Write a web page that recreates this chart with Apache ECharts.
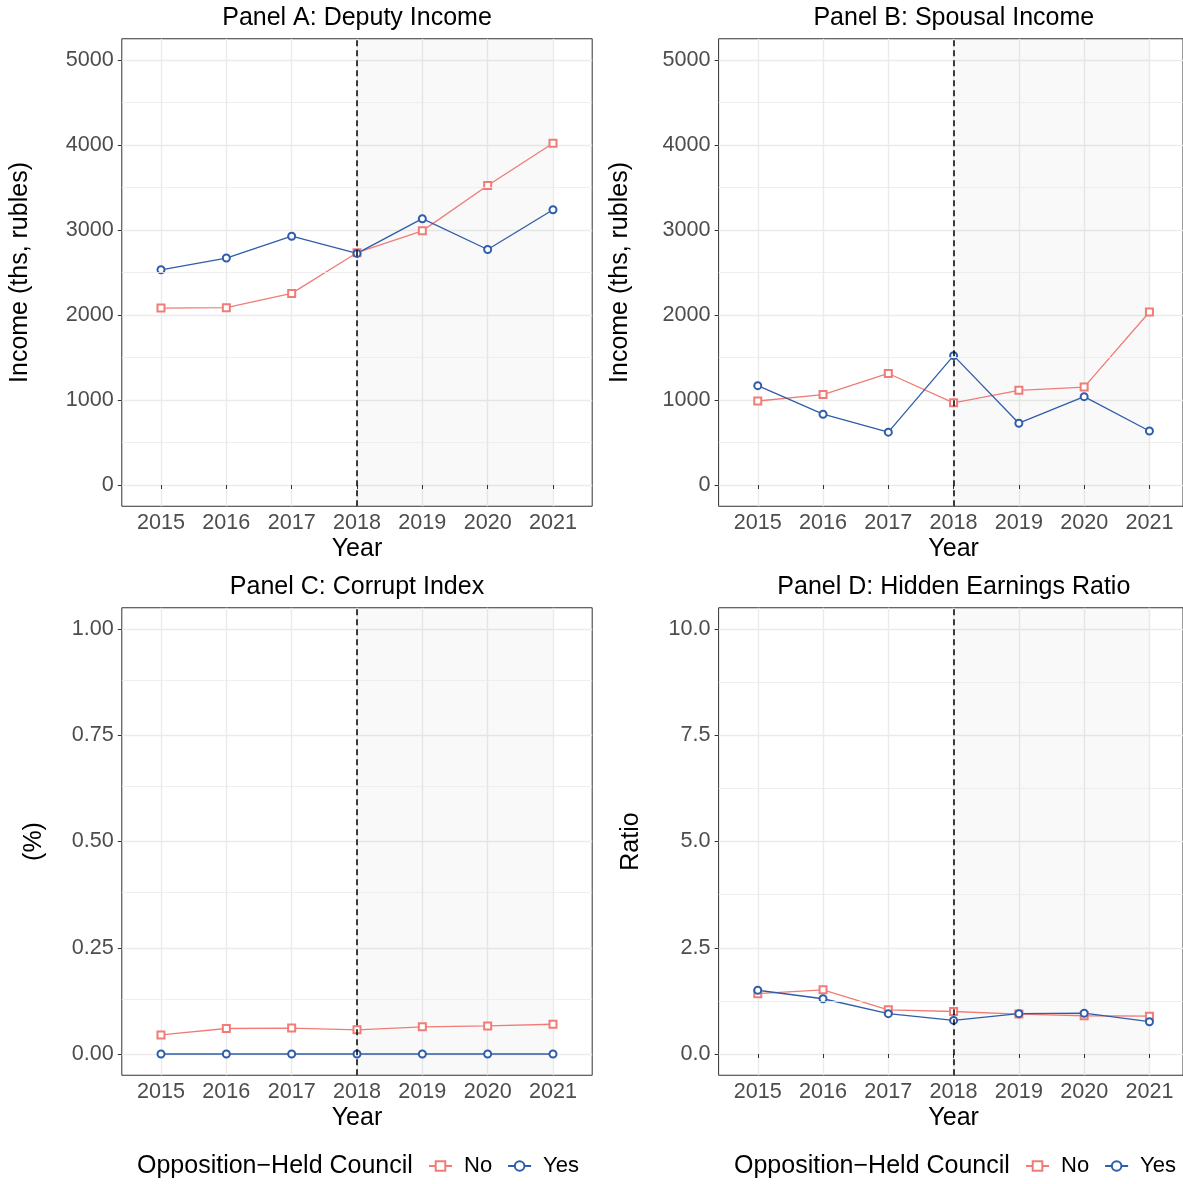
<!DOCTYPE html>
<html><head><meta charset="utf-8">
<script src="https://cdn.jsdelivr.net/npm/echarts@6/dist/echarts.min.js"></script>
<style>html,body{margin:0;padding:0;background:#fff}#c{width:1183px;height:1184px}</style>
</head><body><div id="c"></div>
<script>
// ---- data ----
const years = [2015, 2016, 2017, 2018, 2019, 2020, 2021];
const deputyNo  = [2082, 2086, 2254, 2733, 2990, 3524, 4020];
const deputyYes = [2532, 2670, 2927, 2725, 3133, 2771, 3238];
const spousalNo  = [988, 1064, 1312, 967, 1114, 1152, 2035];
const spousalYes = [1169, 833, 622, 1522, 727, 1039, 635];
const corruptNo  = [0.045, 0.060, 0.061, 0.057, 0.064, 0.066, 0.070];
const corruptYes = [0, 0, 0, 0, 0, 0, 0];
const hiddenNo  = [1.42, 1.51, 1.04, 1.00, 0.94, 0.90, 0.89];
const hiddenYes = [1.50, 1.30, 0.95, 0.79, 0.95, 0.96, 0.76];
const incomeTicks = [0, 1000, 2000, 3000, 4000, 5000];
const incomeMinor = [500, 1500, 2500, 3500, 4500];
const corruptTicks = [0, 0.25, 0.5, 0.75, 1];
const corruptMinor = [0.125, 0.375, 0.625, 0.875];
const ratioTicks = [0, 2.5, 5, 7.5, 10];
const ratioMinor = [1.25, 3.75, 6.25, 8.75];
const panelTitles = ['Panel A: Deputy Income', 'Panel B: Spousal Income', 'Panel C: Corrupt Index', 'Panel D: Hidden Earnings Ratio'];
const yTitles = ['Income (ths, rubles)', 'Income (ths, rubles)', '(%)', 'Ratio'];
const xTitle = 'Year';
const legendTitle = 'Opposition\u2212Held Council';
const groupNames = ['No', 'Yes'];
const treatYear = 2018;
const shadeEnd = 2021;

// ---- styling / layout ----
const FONT = "'Liberation Sans', Arial, Helvetica, sans-serif";
const RED = '#F07C77';
const BLUE = '#2F5DA9';
const GRIDC = '#EBEBEB';
const PX_PER_YEAR = 65.333;
const H = 467.5;
const FULLW = 470.4;
const lefts = [121.8, 718.6, 121.8, 718.6];
const widths = [FULLW, 1183.4 - 718.6, FULLW, 1183.4 - 718.6];   // right panels run off the canvas edge
const tops = [38.75, 38.75, 607.75, 607.75];
const xMin = 2014.4;

const panels = [
  {no: deputyNo, yes: deputyYes, min: -250, max: 5250, ticks: incomeTicks, minor: incomeMinor, fmt: v => String(Math.round(v)), gap: 89},
  {no: spousalNo, yes: spousalYes, min: -250, max: 5250, ticks: incomeTicks, minor: incomeMinor, fmt: v => String(Math.round(v)), gap: 86},
  {no: corruptNo, yes: corruptYes, min: -0.05, max: 1.05, ticks: corruptTicks, minor: corruptMinor, fmt: v => v.toFixed(2), gap: 75},
  {no: hiddenNo, yes: hiddenYes, min: -0.5, max: 10.5, ticks: ratioTicks, minor: ratioMinor, fmt: v => v.toFixed(1), gap: 75}
];

const grid = [], xAxis = [], yAxis = [], series = [], graphic = [];
panels.forEach((p, i) => {
  const shift = FULLW - widths[i];   // keep "Year" centred on the full (clipped) panel
  grid.push({left: lefts[i], top: tops[i], width: widths[i], height: H, show: true,
    borderColor: '#333', borderWidth: 1, backgroundColor: '#fff', containLabel: false});
  xAxis.push({type: 'value', gridIndex: i, min: xMin, max: xMin + widths[i] / PX_PER_YEAR,
    name: xTitle, nameLocation: 'middle', nameGap: 30,
    nameTextStyle: {fontSize: 25, color: '#000', fontFamily: FONT, padding: [0, 0, 0, shift]},
    axisLine: {show: false},
    axisTick: {show: true, length: 4, lineStyle: {color: '#333', width: 1}, customValues: years},
    axisLabel: {customValues: years, formatter: v => String(v), fontSize: 21.6, color: '#4D4D4D', fontFamily: FONT, margin: 6},
    splitLine: {show: true, lineStyle: {color: GRIDC, width: 1.4}}
  });
  yAxis.push({type: 'value', gridIndex: i, min: p.min, max: p.max,
    name: yTitles[i], nameLocation: 'middle', nameGap: p.gap, nameRotate: 90,
    nameTextStyle: {fontSize: 25, color: '#000', fontFamily: FONT},
    axisLine: {show: false},
    axisTick: {show: true, length: 4, lineStyle: {color: '#333', width: 1}, customValues: p.ticks},
    axisLabel: {customValues: p.ticks, formatter: p.fmt, fontSize: 21.6, color: '#4D4D4D', fontFamily: FONT, margin: 8},
    splitLine: {show: true, lineStyle: {color: GRIDC, width: 1.4}}
  });
  // background helper: shading + minor gridlines
  series.push({type: 'line', name: 'bg' + i, xAxisIndex: i, yAxisIndex: i, data: [], z: 1, silent: true,
    markArea: {silent: true, itemStyle: {color: 'rgba(0,0,0,0.025)'}, label: {show: false},
      data: [[{xAxis: treatYear}, {xAxis: shadeEnd}]]},
    markLine: {silent: true, symbol: ['none', 'none'], label: {show: false}, animation: false,
      data: p.minor.map(v => ({yAxis: v, lineStyle: {color: GRIDC, width: 0.8, type: 'solid'}}))}
  });
  const mk = (name, vals, color, sym) => ({
    type: 'line', name: name, xAxisIndex: i, yAxisIndex: i, z: 3,
    data: years.map((y, j) => [y, vals[j]]),
    symbol: sym, symbolSize: 7, showSymbol: true,
    lineStyle: {color: color, width: 1.3},
    itemStyle: {color: color, borderWidth: 0.8},
    emphasis: {disabled: true}
  });
  series.push(mk(groupNames[0], p.no, RED, 'emptyRect'));
  series.push(mk(groupNames[1], p.yes, BLUE, 'emptyCircle'));
  // dashed vertical line
  series.push({type: 'line', name: 'vl' + i, xAxisIndex: i, yAxisIndex: i, data: [], z: 5, silent: true,
    markLine: {silent: true, symbol: ['none', 'none'], label: {show: false}, animation: false,
      data: [{xAxis: treatYear, lineStyle: {color: '#000', width: 1.5, type: [6, 4]}}]}
  });
  graphic.push({type: 'text', x: lefts[i] + FULLW / 2, y: tops[i] - 21,
    style: {text: panelTitles[i], font: '25px ' + FONT, fill: '#000', align: 'center', verticalAlign: 'middle'}});
});

// legend titles
[137, 734].forEach(x => {
  graphic.push({type: 'text', x: x, y: 1166,
    style: {text: legendTitle, font: '25px ' + FONT, fill: '#000', align: 'left', verticalAlign: 'middle'}});
});

const legends = [428, 1025].map(l => ({
  left: l, top: 1155, padding: 0, itemWidth: 23, itemHeight: 12, itemGap: 15,
  data: groupNames, selectedMode: false,
  textStyle: {fontSize: 22, color: '#000', fontFamily: FONT, padding: [0, 0, 0, 7]}
}));

const chart = echarts.init(document.getElementById('c'), null, {renderer: 'canvas'});
chart.setOption({
  animation: false,
  backgroundColor: '#fff',
  grid, xAxis, yAxis, series, graphic,
  legend: legends
});
</script>
</body></html>
